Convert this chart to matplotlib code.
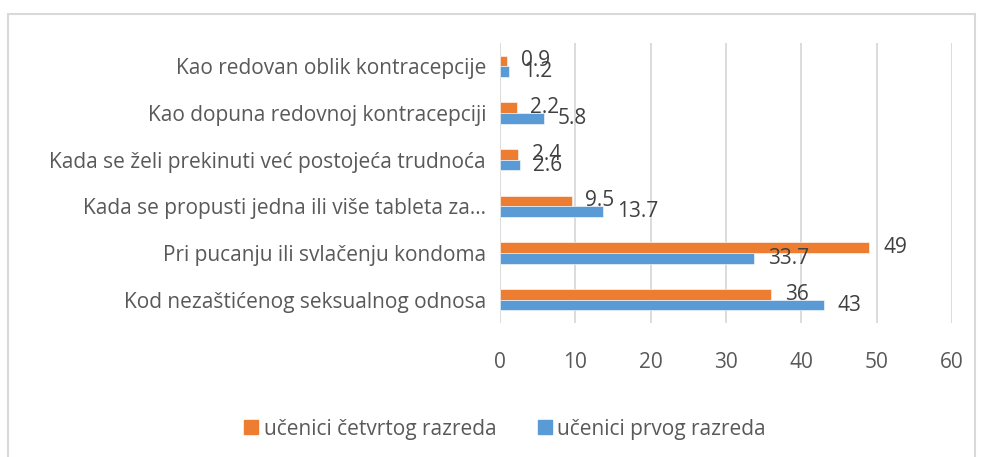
import matplotlib
matplotlib.use('Agg')
import matplotlib.pyplot as plt
import numpy as np
from matplotlib.patches import Rectangle

plt.rcParams['font.family'] = ['Open Sans', 'DejaVu Sans']

# data, bottom to top
categories = ['Kod nezaštićenog seksualnog odnosa',
              'Pri pucanju ili svlačenju kondoma',
              'Kada se propusti jedna ili više tableta za…',
              'Kada se želi prekinuti već postojeća trudnoća',
              'Kao dopuna redovnoj kontracepciji',
              'Kao redovan oblik kontracepcije']
fourth = [36, 49, 9.5, 2.4, 2.2, 0.9]
first = [43, 33.7, 13.7, 2.6, 5.8, 1.2]
fourth_lbl = ['36', '49', '9.5', '2.4', '2.2', '0.9']
first_lbl = ['43', '33.7', '13.7', '2.6', '5.8', '1.2']
xticks = [0, 10, 20, 30, 40, 50, 60]
series_names = ['učenici četvrtog razreda', 'učenici prvog razreda']

c_orange = '#ED7D31'
c_blue = '#5B9BD5'
fs = 15

W, H = 982, 457
fig = plt.figure(figsize=(W/100, H/100), dpi=100)
ax = fig.add_axes([500/W, 1-323/H, 452/W, 280/H])

y = np.arange(len(categories))
h = 0.23
ax.barh(y + h/2, fourth, height=h, color=c_orange, edgecolor='white', linewidth=0.4, zorder=3)
ax.barh(y - h/2, first, height=h, color=c_blue, edgecolor='white', linewidth=0.4, zorder=3)

# data labels
for i in range(len(categories)):
    ax.annotate(fourth_lbl[i], (fourth[i], y[i] + h/2), xytext=(10, 0),
                textcoords='offset points', va='center', ha='left',
                fontsize=fs, color='#404040', zorder=4)
    ax.annotate(first_lbl[i], (first[i], y[i] - h/2), xytext=(10, 0),
                textcoords='offset points', va='center', ha='left',
                fontsize=fs, color='#404040', zorder=4)

ax.set_xlim(0, 60)
ax.set_ylim(-0.5, len(categories) - 0.5)
ax.set_xticks(xticks)
ax.set_yticks(y)
ax.set_yticklabels(categories)
ax.tick_params(axis='x', length=0, pad=21, labelsize=fs, labelcolor='#595959')
ax.tick_params(axis='y', length=0, pad=10, labelsize=fs, labelcolor='#595959')
ax.grid(axis='x', color='#D9D9D9', linewidth=1.3, zorder=0)
for s in ax.spines.values():
    s.set_visible(False)

# legend
handles = [Rectangle((0, 0), 1, 1, color=c_orange), Rectangle((0, 0), 1, 1, color=c_blue)]
fig.legend(handles, series_names, loc='center', bbox_to_anchor=(505/W, 1-429/H),
           ncol=2, frameon=False, fontsize=fs, labelcolor='#595959',
           handlelength=0.67, handleheight=0.67, handletextpad=0.25, columnspacing=2.0)

# chart frame
fig.patches.append(Rectangle((8/W, -0.05), 967/W, 1.05 - 14/H, transform=fig.transFigure,
                             fill=False, edgecolor='#D9D9D9', linewidth=1.5))

fig.savefig('out.png', dpi=100)
